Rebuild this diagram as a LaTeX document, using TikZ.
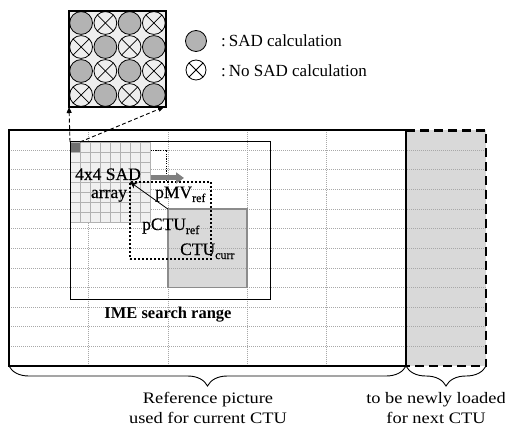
\documentclass[tikz,border=0pt]{standalone}
\usepackage{fontspec}
\setmainfont{Liberation Serif}
\newfontfamily\widefont{Liberation Serif}[FakeStretch=1.15]
\newfontfamily\lblfont{Liberation Serif}[FakeBold=0.4]
\usetikzlibrary{arrows.meta,decorations.pathreplacing}

\definecolor{regiongray}{HTML}{D9D9D9}
\definecolor{gridgray}{HTML}{A8A8A8}
\definecolor{sadfill}{HTML}{F1F1F1}
\definecolor{sadline}{HTML}{B2B2B2}
\definecolor{seedgray}{HTML}{707070}
\definecolor{ctuedge}{HTML}{8C8C8C}
\definecolor{mvgray}{HTML}{808080}
\definecolor{panelbg}{HTML}{EEEEEE}
\definecolor{hitgray}{HTML}{B3B3B3}

% lowered index text, e.g. pMV_ref
\newcommand\subidx[1]{\raisebox{-4pt}{\fontsize{12}{12}\selectfont #1}}

\begin{document}
\begin{tikzpicture}[x=1pt,y=-1pt,
  box/.style={inner sep=0pt,outer sep=0pt,anchor=north west},
  gridline/.style={draw=gridgray,line width=0.6pt,dash pattern=on 1pt off 1pt},
  sadrule/.style={draw=sadline,line width=0.6pt},
  thickdot/.style={line width=2pt,dash pattern=on 2pt off 2pt},
  thindot/.style={line width=0.8pt,dash pattern=on 1.2pt off 1.2pt},
  linkarrow/.style={line width=0.9pt,dash pattern=on 4pt off 2.5pt,-{Triangle[length=6pt,width=5pt]}},
  lbl/.style={font=\lblfont\fontsize{17.5}{20}\selectfont,inner sep=0pt},
  legendtext/.style={font=\fontsize{17}{20}\selectfont,inner sep=0pt,anchor=base west},
  caption/.style={font=\widefont\fontsize{16}{20}\selectfont,align=center,inner sep=0pt},
  brace/.style={decorate,decoration={brace,mirror,amplitude=20pt},line width=0.9pt}]
\useasboundingbox (0,0) rectangle (505,430);

% ---- reference picture area and the region loaded next ----
\node[box,minimum width=397pt,minimum height=235.5pt] (refpic) at (9,130.5) {};
\node[box,fill=regiongray,minimum width=80pt,minimum height=235.5pt] (newload) at (406,130.5) {};
\node[box,fill=regiongray,minimum width=79.4pt,minimum height=78.5pt] (ctu) at (167.8,209) {};

% CTU grid
\foreach \k in {1,...,11}
  \draw[gridline] (9,{130.5+19.625*\k}) -- (486,{130.5+19.625*\k});
\foreach \c in {1,...,4}
  \draw[gridline] ({9+79.4*\c},130.5) -- ({9+79.4*\c},366);

% 4x4 SAD array
\node[box,fill=sadfill,draw=sadline,line width=0.6pt,minimum width=80pt,minimum height=80pt] (sad) at (70,142) {};
\foreach \i in {1,...,7} {
  \draw[sadrule] ({70+10*\i},142) -- ({70+10*\i},222);
  \draw[sadrule] (70,{142+10*\i}) -- (150,{142+10*\i});
}
\node[box,fill=seedgray,draw=sadline,line width=0.6pt,minimum width=10pt,minimum height=10pt] (seed) at (70,142) {};

% IME search range
\node[box,draw,line width=1pt,minimum width=200pt,minimum height=157pt] (ime) at (70,142) {};
\node[font=\bfseries\fontsize{16.5}{19}\selectfont,inner sep=0pt,anchor=base] (imelbl) at (168,318) {IME search range};

% current CTU outline
\draw[draw=ctuedge,line width=1.6pt] (ctu.north west) rectangle (ctu.south east);

% predicted CTU position
\node[box,draw,thickdot,minimum width=81pt,minimum height=77pt] (pctu) at (130,182) {};
\coordinate (wina) at (150.5,150);
\coordinate (winb) at (166,150);
\draw[thindot] (wina) -- (winb) -- (winb |- pctu.north);

% motion vector arrows
\coordinate (mvs) at (150.5,178);
\coordinate (mve) at (184,178);
\draw[mvgray,line width=5pt,-{Triangle[length=8pt,width=11pt]}] (mvs) -- (mve);
\draw[line width=0.8pt,-{Stealth[length=7pt,width=6pt]}] (ctu.north west) -- (pctu.north west);

% labels
\node[lbl,anchor=base] (sadlbl) at (108,180) {4x4 SAD};
\node[lbl,anchor=base] (arraylbl) at (109,198) {array};
\node[lbl,anchor=base west] (mvlbl) at (155,198) {pMV\subidx{ref}};
\node[lbl,anchor=base west] (pctulbl) at (142,230) {pCTU\subidx{ref}};
\node[lbl,anchor=base west] (ctulbl) at (180,255) {CTU\subidx{curr}};

% outlines of the two areas
\draw[line width=2pt] (refpic.north west) rectangle (refpic.south east);
\draw[line width=2.2pt,dash pattern=on 9pt off 5pt] (newload.north west) -- (newload.north east) -- (newload.south east) -- (newload.south west);

% ---- enlarged 4x4 SAD array ----
\node[box,fill=panelbg,minimum width=97pt,minimum height=96pt] (panel) at (69,11) {};
\foreach \i in {0,...,3} {
  \foreach \j in {0,...,3} {
    \pgfmathtruncatemacro{\parity}{mod(\i+\j,2)}
    \ifnum\parity=0
      \draw[fill=hitgray,line width=0.8pt] ({81.1+24.25*\i},{23+24*\j}) circle (11.4);
    \else
      \draw[fill=panelbg,line width=0.8pt] ({81.1+24.25*\i},{23+24*\j}) circle (11.4);
      \draw[line width=0.8pt] ({81.1+24.25*\i},{23+24*\j}) ++(45:11.4) -- ++(225:22.8);
      \draw[line width=0.8pt] ({81.1+24.25*\i},{23+24*\j}) ++(135:11.4) -- ++(-45:22.8);
    \fi
  }
}
\draw[line width=2pt] (panel.north west) rectangle (panel.south east);

% links from the first array cell to the enlarged view
\draw[linkarrow] (seed.north west) -- (panel.south west);
\draw[linkarrow] (seed.north east) -- ([xshift=-2pt]panel.south east);

% ---- legend ----
\draw[fill=hitgray,line width=0.8pt] (196,41) circle (10.5);
\draw[fill=white,line width=0.8pt] (196,70) circle (10);
\draw[line width=0.8pt] (196,70) ++(45:10) -- ++(225:20);
\draw[line width=0.8pt] (196,70) ++(135:10) -- ++(-45:20);
\node[legendtext] (lega) at (221,47) {:\hspace{3pt}SAD calculation};
\node[legendtext] (legb) at (221,77) {:\hspace{3pt}No SAD calculation};

% ---- braces and captions ----
\draw[brace] (refpic.south west) -- (refpic.south east);
\draw[brace] (newload.south west) -- (newload.south east);
\node[caption,anchor=base] (capa) at (208,423) {Reference picture\\used for current CTU};
\node[caption,anchor=base] (capb) at (436,423) {to be newly loaded\\for next CTU};
\end{tikzpicture}
\end{document}
